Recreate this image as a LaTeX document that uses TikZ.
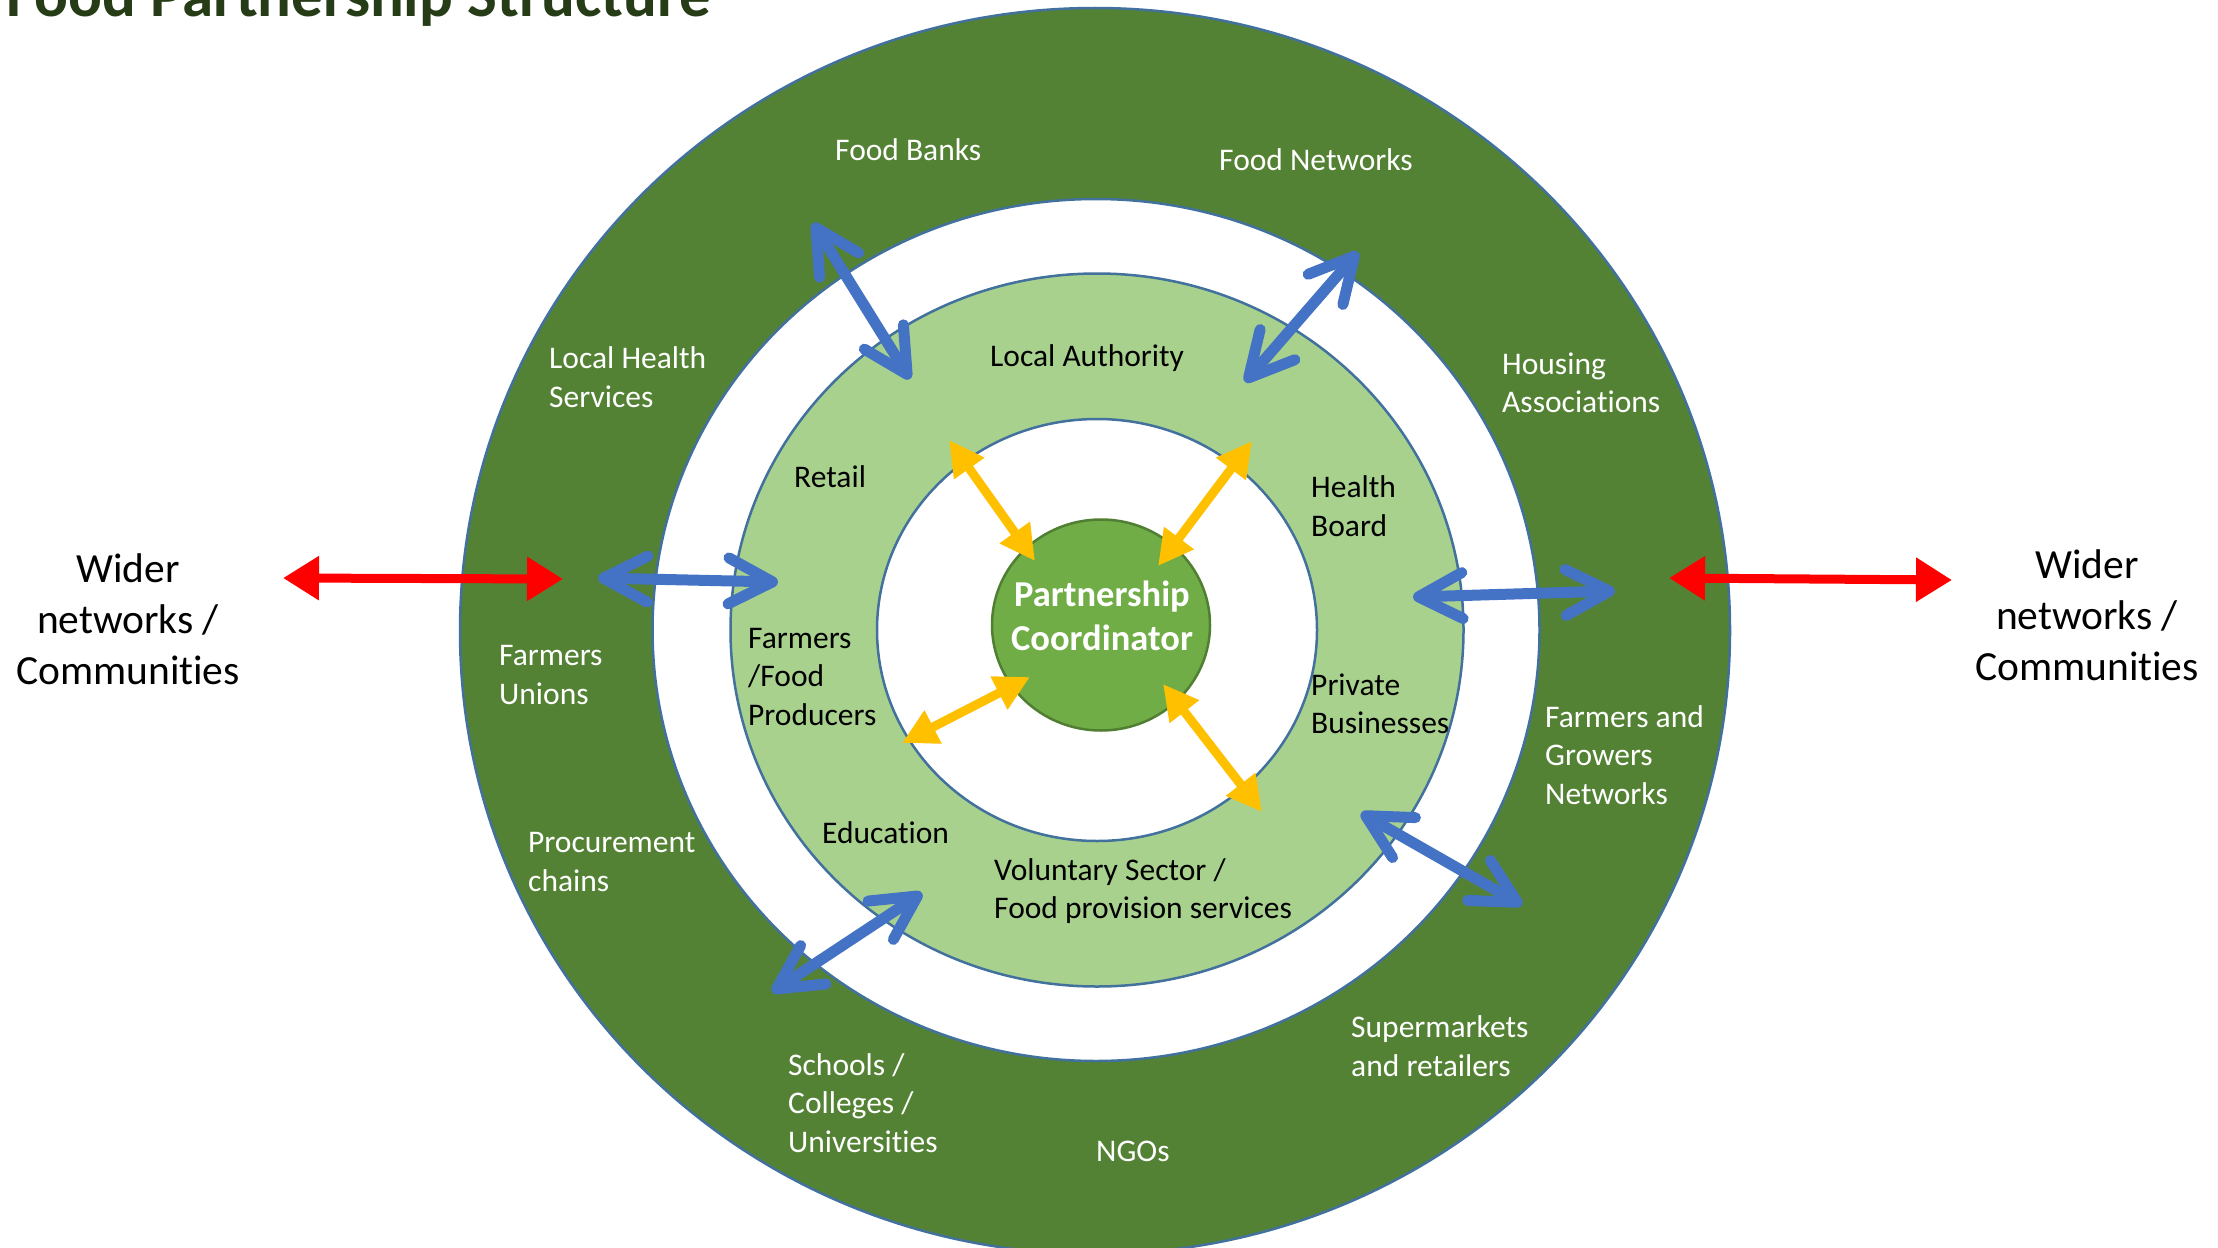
\documentclass[tikz,border=0pt]{standalone}
\usepackage{fontspec}
\setmainfont{Carlito}[Ligatures={NoCommon,NoContextual},RawFeature={-liga,-clig,-calt,-dlig}]
\usetikzlibrary{arrows.meta,shapes.geometric}
\definecolor{darkg}{HTML}{548235}
\definecolor{lightg}{HTML}{A9D18E}
\definecolor{midg}{HTML}{70AD47}
\definecolor{midgb}{HTML}{507E32}
\definecolor{ringb}{HTML}{41719C}
\definecolor{arrblue}{HTML}{4472C4}
\definecolor{arryel}{HTML}{FFC000}
\definecolor{arrred}{HTML}{FF0000}
\definecolor{titleg}{RGB}{37,60,22}
\begin{document}
\begin{tikzpicture}[x=1pt,y=-1pt,
  ring/.style={draw=ringb,line width=2.5pt},
  wlab/.style={text=white,font=\fontsize{31.5}{38.4}\selectfont,align=left,anchor=west,inner sep=0pt},
  blab/.style={text=black,font=\fontsize{31.5}{38.4}\selectfont,align=left,anchor=west,inner sep=0pt},
  widerlab/.style={text=black,font=\fontsize{41.5}{51}\selectfont,align=center,inner sep=0pt},
  bluearr/.style={draw=arrblue,line width=11pt,{Straight Barb[length=44pt,width=46pt,round]}-{Straight Barb[length=44pt,width=46pt,round]}},
  yelarr/.style={draw=arryel,line width=9pt,{Triangle[length=35pt,width=35pt]}-{Triangle[length=35pt,width=35pt]}},
  redarr/.style={draw=arrred,line width=9pt,{Triangle[length=36pt,width=42pt]}-{Triangle[length=36pt,width=42pt]}},
]
\useasboundingbox (0,0) rectangle (2218,1247);
\clip (0,0) rectangle (2218,1247);

% rings
\draw[ring,fill=darkg] (1095,631) ellipse [x radius=635,y radius=623];
\draw[ring,fill=white] (1096,630) ellipse [x radius=443.5,y radius=431];
\draw[ring,fill=lightg] (1097,630) ellipse [x radius=366.5,y radius=356.5];
\draw[ring,fill=white] (1097,630) ellipse [x radius=220,y radius=211];
\node[ellipse,draw=midgb,fill=midg,line width=2.5pt,minimum width=218pt,minimum height=211pt,inner sep=0pt] (hub) at (1101,625) {};

% arrow end points
\coordinate (b1a) at (813,223);  \coordinate (b1b) at (910,379);
\coordinate (b2a) at (1358,252); \coordinate (b2b) at (1245,382);
\coordinate (b3a) at (598,578);  \coordinate (b3b) at (778,582);
\coordinate (b4a) at (1413,597); \coordinate (b4b) at (1615,591);
\coordinate (b5a) at (1361,813); \coordinate (b5b) at (1522,905);
\coordinate (b6a) at (772,992);  \coordinate (b6b) at (922,893);
\coordinate (y1a) at (949,440);  \coordinate (y1b) at (1035,561);
\coordinate (y2a) at (1252,441); \coordinate (y2b) at (1158,566);
\coordinate (y3a) at (902,743);  \coordinate (y3b) at (1030,677);
\coordinate (y4a) at (1262,812); \coordinate (y4b) at (1163,684);
\coordinate (r1a) at (283,578);  \coordinate (r1b) at (563,579);
\coordinate (r2a) at (1669,578); \coordinate (r2b) at (1952,580);

\draw[bluearr] (b1a) -- (b1b);
\draw[bluearr] (b2a) -- (b2b);
\draw[bluearr] (b3a) -- (b3b);
\draw[bluearr] (b4a) -- (b4b);
\draw[bluearr] (b5a) -- (b5b);
\draw[bluearr] (b6a) -- (b6b);
\draw[yelarr] (y1a) -- (y1b);
\draw[yelarr] (y2a) -- (y2b);
\draw[yelarr] (y3a) -- (y3b);
\draw[yelarr] (y4a) -- (y4b);
\draw[redarr] (r1a) -- (r1b);
\draw[redarr] (r2a) -- (r2b);

% title
\node[anchor=base west,inner sep=0pt,font=\bfseries\fontsize{63}{76}\selectfont,text=titleg] (title) at (6,17) {Food Partnership Structure};

% outer ring labels
\node[wlab] (foodbanks) at (835,150) {Food Banks};
\node[wlab] (foodnet) at (1219,160) {Food Networks};
\node[wlab] (lhs) at (549,377) {Local Health\\Services};
\node[wlab] (housing) at (1502,383) {Housing\\Associations};
\node[wlab] (funions) at (499,675) {Farmers\\Unions};
\node[wlab] (fgn) at (1545,755) {Farmers and\\Growers\\Networks};
\node[wlab] (proc) at (528,862) {Procurement\\chains};
\node[wlab] (super) at (1351,1046) {Supermarkets\\and retailers};
\node[wlab] (schools) at (788,1103) {Schools /\\Colleges /\\Universities};
\node[wlab] (ngos) at (1096,1151) {NGOs};

% inner ring labels
\node[blab] (la) at (990,358) {Local Authority};
\node[blab] (retail) at (794,477) {Retail};
\node[blab] (hb) at (1311,506) {Health\\Board};
\node[blab] (ffp) at (748,677) {Farmers\\/Food\\Producers};
\node[blab] (pb) at (1311,704) {Private\\Businesses};
\node[blab] (edu) at (822,833) {Education};
\node[blab] (vs) at (994,891) {Voluntary Sector /\\Food provision services};

% side labels
\node[widerlab] (wl) at (128,619) {Wider\\networks /\\Communities};
\node[widerlab] (wr) at (2087,615) {Wider\\networks /\\Communities};

% centre
\node[text=white,font=\bfseries\fontsize{36.5}{44.5}\selectfont,align=center,inner sep=0pt] (pc) at (1102,616) {Partnership\\Coordinator};
\end{tikzpicture}
\end{document}
